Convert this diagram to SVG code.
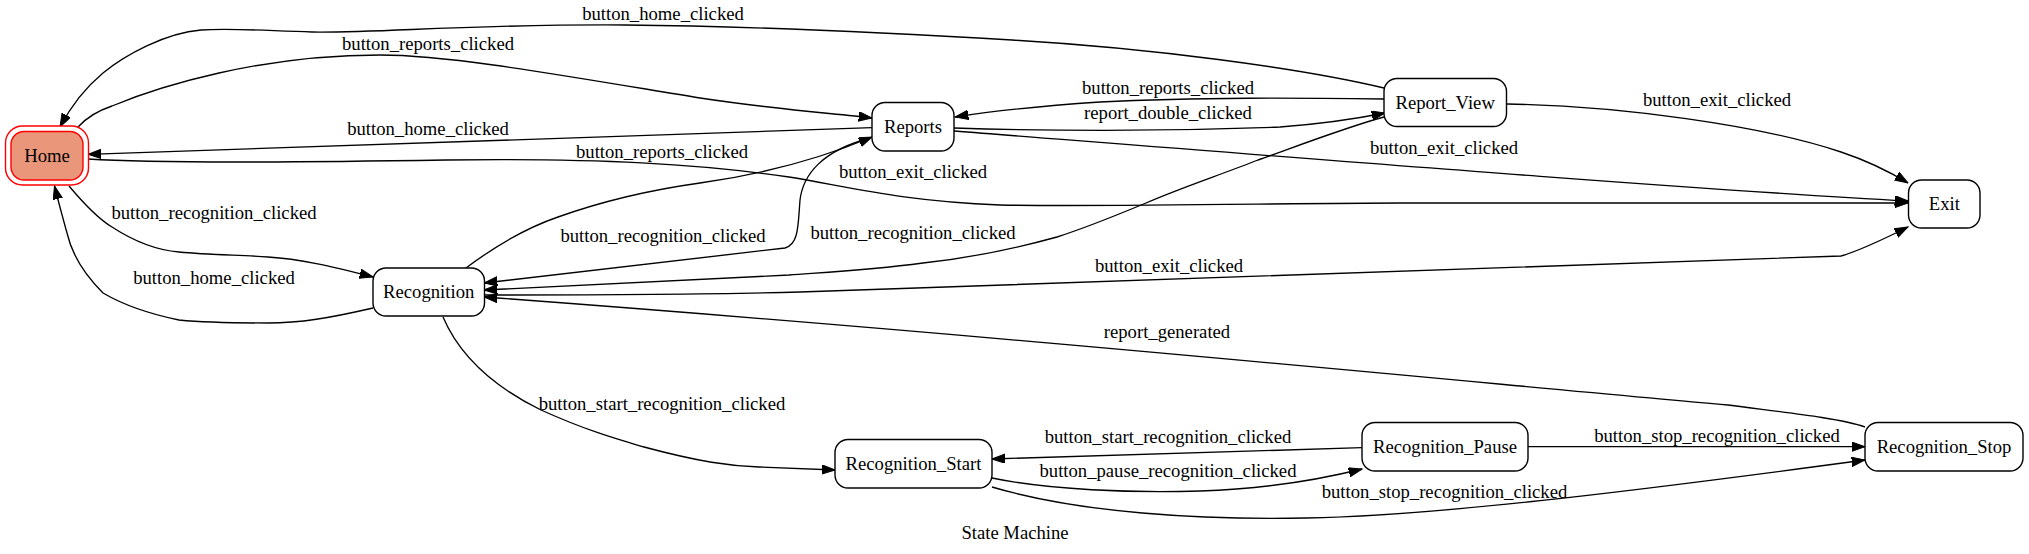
<svg xmlns="http://www.w3.org/2000/svg" width="2029" height="554" viewBox="0 0 2029 554">
<style>
text{font-family:"Liberation Serif","Times New Roman",serif;font-size:18.67px;fill:#000;text-anchor:middle}
.node rect{fill:#fff;stroke:#000;stroke-width:1.4}
#edges path{fill:none;stroke:#000;stroke-width:1.33;marker-end:url(#arr)}
</style>
<defs>
<marker id="arr" markerUnits="userSpaceOnUse" markerWidth="14" markerHeight="10" refX="13.3" refY="4.7" orient="auto">
<path d="M0,0 L13.3,4.7 L0,9.4 Z" fill="#000" stroke="#000" stroke-width="1"/>
</marker>
</defs>
<rect width="2029" height="554" fill="#fff"/>
<g id="edges">
<path d="M1384,88 C1300,68 1150,48 1012,40 C880,32 740,26 625,25 C470,24 380,33 312,32 C270,31 235,28 201,30 C165,33 125,55 103,73 C85,88 70,108 60,127"/>
<path d="M78,127 C88,116 100,110 112,106 C160,86 260,55 380,55 C450,55 560,75 700,98 C780,110 830,113 872,118"/>
<path d="M872,127.7 L88,154.3"/>
<path d="M88,159 C150,163 260,163 446,160 C600,158 700,164 789,177 C850,187 900,201 1000,205 C1100,207 1300,203 1400,203 L1908,203"/>
<path d="M466,268 C490,250 520,230 558,217 C600,202 650,190 700,183 C750,176 810,163 872,137"/>
<path d="M871,138 C822,150 803,175 800,200 C798,225 799,244 785,248 L484,283"/>
<path d="M1384,117 C1350,126 1300,145 1258,160 C1220,175 1180,188 1146,203 C1110,218 1085,228 1057,237 C1010,250 960,259 923,263 C870,270 830,272 789,275 L484,290"/>
<path d="M484,295 C600,295 700,295 800,292 L1841,256 C1862,250 1886,238 1908,227"/>
<path d="M1865,427 C1840,418 1780,412 1728,405 C1500,385 1000,335 484,297"/>
<path d="M69,186 C85,205 100,220 112,227 C135,242 155,250 179,252 C210,255 240,255 268,257 C300,259 330,266 373,277"/>
<path d="M373,308 C330,318 300,323 268,323 C230,323 200,322 179,320 C140,312 115,300 103,293 C85,275 72,255 67,233 C62,215 58,200 54.5,186"/>
<path d="M443,317 C455,345 480,380 541,410 C590,432 620,440 644,447 C700,462 730,466 759,467 L835,470"/>
<path d="M1362,447.7 L992,459"/>
<path d="M992,478 C1050,490 1130,493 1200,491 C1260,489 1310,482 1362,469"/>
<path d="M992,487 C1080,513 1200,520 1306,518 C1430,516 1620,493 1865,460"/>
<path d="M1528,446.7 L1865,446.7"/>
<path d="M1384,99 C1300,98 1200,97 1100,102 C1040,106 1000,110 955,117"/>
<path d="M954,128 C1050,131 1150,132 1280,127 C1320,124 1350,120 1385,113"/>
<path d="M954,131 C1300,158 1700,190 1908,201"/>
<path d="M1507,104 C1620,106 1760,125 1841,152 C1865,160 1890,172 1908,183"/>
</g>
<g id="edge-labels">
<text x="663" y="19.5">button_home_clicked</text>
<text x="428" y="50">button_reports_clicked</text>
<text x="428" y="135">button_home_clicked</text>
<text x="662" y="158">button_reports_clicked</text>
<text x="913" y="177.5">button_exit_clicked</text>
<text x="214" y="218.5">button_recognition_clicked</text>
<text x="214" y="283.5">button_home_clicked</text>
<text x="663" y="242">button_recognition_clicked</text>
<text x="913" y="239">button_recognition_clicked</text>
<text x="1169" y="271.5">button_exit_clicked</text>
<text x="1167" y="338">report_generated</text>
<text x="662" y="410">button_start_recognition_clicked</text>
<text x="1168" y="93.5">button_reports_clicked</text>
<text x="1168" y="119">report_double_clicked</text>
<text x="1444" y="153.5">button_exit_clicked</text>
<text x="1717" y="105.5">button_exit_clicked</text>
<text x="1168" y="443">button_start_recognition_clicked</text>
<text x="1168" y="477">button_pause_recognition_clicked</text>
<text x="1444.5" y="498">button_stop_recognition_clicked</text>
<text x="1717" y="441.5">button_stop_recognition_clicked</text>
</g>
<g id="Home" class="node">
<rect x="5.5" y="126" width="83" height="59" rx="17" ry="17" style="stroke:#f00"/>
<rect x="11" y="131.5" width="72" height="48.5" rx="13" ry="13" style="fill:#e9967a;stroke:#f00"/>
<text x="47" y="161.5">Home</text>
</g>
<g id="Reports" class="node">
<rect x="872" y="102.5" width="82" height="48.5" rx="13" ry="13"/>
<text x="913" y="132.5">Reports</text>
</g>
<g id="Report_View" class="node">
<rect x="1384" y="78.5" width="122.5" height="48" rx="13" ry="13"/>
<text x="1445.2" y="108.5">Report_View</text>
</g>
<g id="Recognition" class="node">
<rect x="373" y="268" width="111.5" height="48" rx="13" ry="13"/>
<text x="428.7" y="298">Recognition</text>
</g>
<g id="Exit" class="node">
<rect x="1908.5" y="180" width="71.5" height="48" rx="13" ry="13"/>
<text x="1944.3" y="210">Exit</text>
</g>
<g id="Recognition_Start" class="node">
<rect x="835" y="439.5" width="157" height="48.5" rx="13" ry="13"/>
<text x="913.5" y="469.5">Recognition_Start</text>
</g>
<g id="Recognition_Pause" class="node">
<rect x="1362" y="422.5" width="166" height="48.5" rx="13" ry="13"/>
<text x="1445" y="452.5">Recognition_Pause</text>
</g>
<g id="Recognition_Stop" class="node">
<rect x="1865" y="422.5" width="158" height="48.5" rx="13" ry="13"/>
<text x="1944" y="452.5">Recognition_Stop</text>
</g>
<text x="1015" y="539">State Machine</text>
</svg>
